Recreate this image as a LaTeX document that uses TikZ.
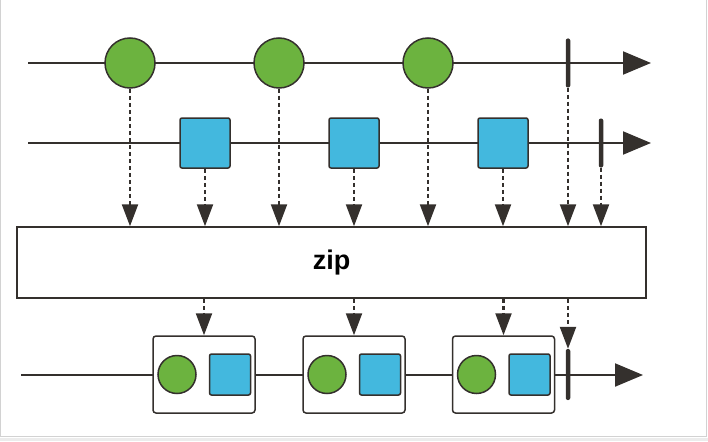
\documentclass[tikz,border=0pt]{standalone}
\usepackage{fontspec}
\setsansfont{Liberation Sans}
\usetikzlibrary{arrows.meta}

\definecolor{linegray}{RGB}{52,48,45}
\definecolor{ballgreen}{RGB}{108,179,63}
\definecolor{boxblue}{RGB}{67,184,222}

\tikzstyle{timeline} = [line width=2pt, draw=linegray, -{Triangle[length=28pt,width=23pt]}]
\tikzstyle{ball} = [circle, minimum size=50pt, inner sep=0pt, draw=linegray, line width=1.5pt, fill=ballgreen]
\tikzstyle{tile} = [rectangle, rounded corners=2pt, minimum size=50pt, inner sep=0pt, draw=linegray, line width=1.5pt, fill=boxblue]
\tikzstyle{smallball} = [ball, minimum size=38pt]
\tikzstyle{smalltile} = [tile, minimum size=41pt]
\tikzstyle{pair} = [rectangle, rounded corners=3pt, minimum width=102pt, minimum height=77pt, draw=linegray, line width=1.5pt, fill=white]
\tikzstyle{endmark} = [rectangle, rounded corners=2pt, minimum width=4.5pt, inner sep=0pt, fill=linegray]
\tikzstyle{operator} = [rectangle, minimum width=629pt, minimum height=71pt, draw=linegray, line width=1.5pt, font=\sffamily\bfseries\fontsize{27}{30}\selectfont]
\tikzstyle{dotarrow} = [line width=2.3pt, draw=linegray, dash pattern=on 4pt off 3pt, -{Triangle[length=22pt,width=16pt]}]

\begin{document}
\begin{tikzpicture}[x=1pt,y=-1pt]
\useasboundingbox (0,0) rectangle (708,441);
% frame
\draw[gray!35, line width=1pt] (0.5,0) -- (0.5,436.5) -- (706.5,436.5) -- (706.5,0);
\draw[gray!15, line width=3pt] (0,439) -- (708,439);

% first source
\coordinate (a1) at (28,63);
\coordinate (b1) at (651,63);
\draw[timeline] (a1) -- (b1);
\node (c1) [ball] at (130,63) {};
\node (c2) [ball] at (279,63) {};
\node (c3) [ball] at (428,63) {};
\node (t1) [endmark, minimum height=49pt] at (568,63) {};

% second source
\coordinate (a2) at (28,143);
\coordinate (b2) at (651,143);
\draw[timeline] (a2) -- (b2);
\node (s1) [tile] at (205,143) {};
\node (s2) [tile] at (354,143) {};
\node (s3) [tile] at (503,143) {};
\node (t2) [endmark, minimum height=49pt] at (601,143) {};

% operator
\node (zip) [operator] at (331.5,262.5) {zip};

% result
\coordinate (a3) at (21,375);
\coordinate (b3) at (643,375);
\draw[timeline] (a3) -- (b3);
\node (p1) [pair] at (204,374.5) {};
\node (p2) [pair] at (354,374.5) {};
\node (p3) [pair] at (503.5,374.5) {};
\node (t3) [endmark, minimum height=51pt] at (568,374.5) {};
\foreach \p in {p1,p2,p3} {
  \node (\p c) [smallball] at ([xshift=-27pt]\p.center) {};
  \node (\p s) [smalltile] at ([xshift=26pt]\p.center) {};
}

% into the operator
\foreach \n in {c1,c2,c3,s1,s2,s3,t1,t2}
  \draw[dotarrow] (\n.south) -- (\n.south |- zip.north);

% out of the operator
\foreach \n in {p1,p2,p3,t3}
  \draw[dotarrow] (zip.south -| \n.north) -- (\n.north);

\end{tikzpicture}
\end{document}
